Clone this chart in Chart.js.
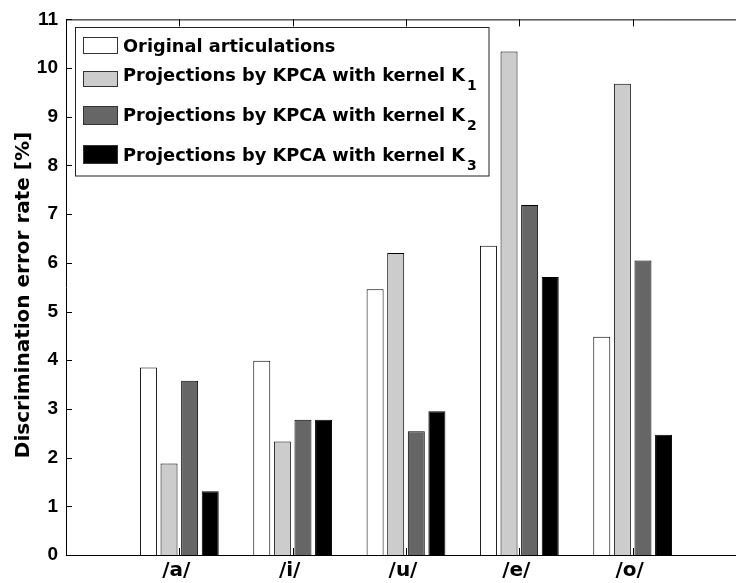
<!DOCTYPE html>
<html>
<head>
<meta charset="utf-8">
<script src="https://cdn.jsdelivr.net/npm/chart.js@4/dist/chart.umd.min.js"></script>
<style>
  html, body { margin: 0; padding: 0; background: #fff; overflow: hidden; }
  #wrap { width: 780px; height: 583px; }
</style>
</head>
<body>
<div id="wrap"><canvas id="c" width="780" height="583"></canvas></div>
<script>
// Vowel categories on the x axis
const vowels = ['/a/', '/i/', '/u/', '/e/', '/o/'];

// Discrimination error rate [%] for each vowel
const originalArticulations = [3.85, 3.99, 5.46, 6.35, 4.48];
const kpcaKernel1 = [1.88, 2.33, 6.20, 10.34, 9.68];
const kpcaKernel2 = [3.58, 2.78, 2.54, 7.19, 6.05];
const kpcaKernel3 = [1.31, 2.78, 2.95, 5.71, 2.47];

// Legend entries ("_" introduces a subscript)
const seriesNames = [
  'Original articulations',
  'Projections by KPCA with kernel K_1',
  'Projections by KPCA with kernel K_2',
  'Projections by KPCA with kernel K_3'
];
const seriesColors = ['#ffffff', '#cccccc', '#666666', '#000000'];

// y ticks 0..11
const yTicks = [0, 1, 2, 3, 4, 5, 6, 7, 8, 9, 10, 11];
const yTitle = 'Discrimination error rate [%]';

// empty slots at both ends leave room before /a/ and after /o/
const xLabels = [''].concat(vowels, ['']);
const pad = arr => [null].concat(arr, [null]);

const seriesValues = [originalArticulations, kpcaKernel1, kpcaKernel2, kpcaKernel3];

const datasets = seriesValues.map((vals, i) => ({
  label: seriesNames[i],
  data: pad(vals),
  backgroundColor: seriesColors[i],
  borderColor: '#000000',
  borderWidth: 1,
  borderSkipped: 'bottom',
  categoryPercentage: 0.727,
  barPercentage: 0.825
}));

// MATLAB-style axes with inward ticks
const frameTicks = {
  id: 'frameTicks',
  beforeDatasetsDraw(chart) {
    const { ctx, chartArea: a, scales: { x, y } } = chart;
    ctx.save();
    ctx.strokeStyle = '#000';
    ctx.lineWidth = 1;
    ctx.beginPath();
    yTicks.forEach(v => {
      const py = Math.round(y.getPixelForValue(v)) + 0.5;
      ctx.moveTo(a.left, py); ctx.lineTo(a.left + 6, py);
    });
    vowels.forEach((v, i) => {
      const px = Math.round(x.getPixelForValue(i + 1)) + 0.5;
      ctx.moveTo(px, a.bottom); ctx.lineTo(px, a.bottom - 7);
      ctx.moveTo(px, a.top); ctx.lineTo(px, a.top + 7);
    });
    ctx.stroke();
    ctx.restore();
  },
  afterDatasetsDraw(chart) {
    const { ctx, chartArea: a } = chart;
    ctx.save();
    ctx.strokeStyle = '#000';
    ctx.lineWidth = 1;
    ctx.beginPath();
    ctx.moveTo(a.right, a.top + 0.5);
    ctx.lineTo(a.left + 0.5, a.top + 0.5);
    ctx.lineTo(a.left + 0.5, a.bottom + 0.5);
    ctx.lineTo(a.right, a.bottom + 0.5);
    ctx.stroke();
    // rotated y-axis title
    ctx.translate(24, 295);
    ctx.rotate(-Math.PI / 2);
    ctx.fillStyle = '#000';
    ctx.font = 'bold 20px "DejaVu Sans"';
    ctx.textAlign = 'center';
    ctx.textBaseline = 'middle';
    ctx.fillText(yTitle, 0, 0);
    ctx.restore();
  }
};

// Boxed legend with subscripted kernel names
const boxLegend = {
  id: 'boxLegend',
  afterDraw(chart) {
    const { ctx } = chart;
    const rows = [
      { top: 37, bottom: 54, base: 52 },
      { top: 71, bottom: 87, base: 81 },
      { top: 106, bottom: 125, base: 121 },
      { top: 145, bottom: 164, base: 161 }
    ];
    ctx.save();
    ctx.fillStyle = '#fff';
    ctx.fillRect(76, 28, 413, 148);
    ctx.strokeStyle = '#222';
    ctx.lineWidth = 1;
    ctx.strokeRect(75.5, 27.5, 413.5, 148.5);
    chart.data.datasets.forEach((ds, i) => {
      const r = rows[i];
      ctx.fillStyle = ds.backgroundColor;
      ctx.fillRect(83, r.top, 35, r.bottom - r.top);
      ctx.strokeStyle = '#333';
      ctx.strokeRect(83.5, r.top + 0.5, 34, r.bottom - r.top - 1);
      const parts = ds.label.split('_');
      ctx.fillStyle = '#000';
      ctx.textBaseline = 'alphabetic';
      ctx.textAlign = 'left';
      ctx.font = 'bold 17.8px "DejaVu Sans"';
      ctx.fillText(parts[0], 123, r.base);
      if (parts[1]) {
        const w = ctx.measureText(parts[0]).width;
        ctx.font = 'bold 14px "DejaVu Sans"';
        ctx.fillText(parts[1], 123 + w + 2, r.base + 9);
      }
    });
    ctx.restore();
  }
};

new Chart(document.getElementById('c'), {
  type: 'bar',
  data: { labels: xLabels, datasets },
  options: {
    responsive: false,
    animation: false,
    devicePixelRatio: 1,
    layout: { padding: { left: 0, top: 16, right: 34, bottom: 0 } },
    plugins: {
      legend: { display: false },
      tooltip: { enabled: false }
    },
    scales: {
      x: {
        type: 'category',
        offset: false,
        grid: { display: false, drawTicks: false },
        border: { display: false },
        ticks: {
          color: '#000',
          padding: 4,
          labelOffset: -3,
          maxRotation: 0,
          autoSkip: false,
          font: { family: '"DejaVu Sans"', weight: 'bold', size: 20 }
        },
        afterFit(scale) { scale.height = 28; }
      },
      y: {
        min: 0,
        max: 11,
        grid: { display: false, drawTicks: false },
        border: { display: false },
        afterBuildTicks(scale) { scale.ticks = yTicks.map(v => ({ value: v })); },
        ticks: {
          color: '#000',
          padding: 8,
          font: { family: '"Liberation Sans"', weight: 'bold', size: 19 }
        },
        afterFit(scale) { scale.width = 66; }
      }
    }
  },
  plugins: [frameTicks, boxLegend]
});
</script>
</body>
</html>
